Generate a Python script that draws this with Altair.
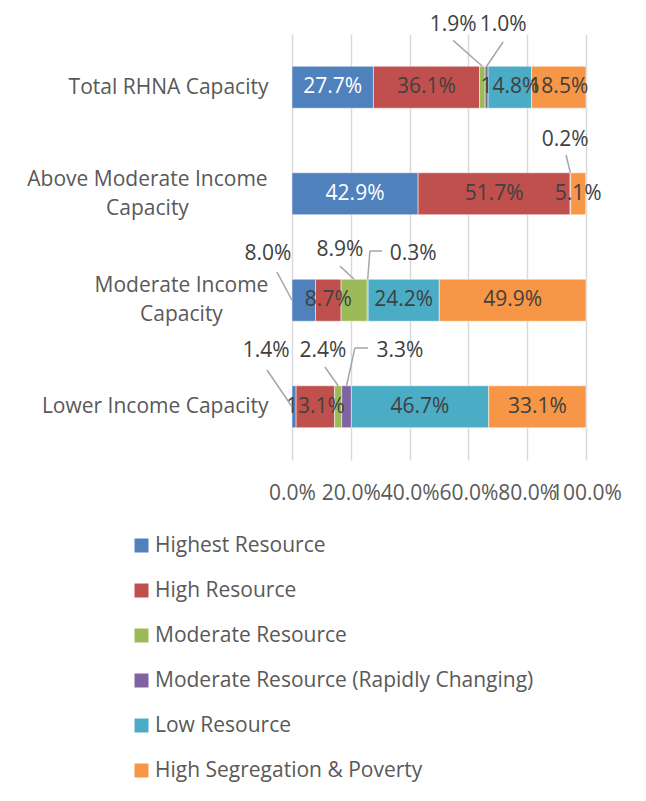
import altair as alt
import pandas as pd

# ---------------- data ----------------
categories = ["Total RHNA Capacity", "Above Moderate Income Capacity",
              "Moderate Income Capacity", "Lower Income Capacity"]
category_lines = [["Total RHNA Capacity"], ["Above Moderate Income", "Capacity"],
                  ["Moderate Income", "Capacity"], ["Lower Income Capacity"]]
series = ["Highest Resource", "High Resource", "Moderate Resource",
          "Moderate Resource (Rapidly Changing)", "Low Resource",
          "High Segregation & Poverty"]
colors = ["#4F81BD", "#C0504D", "#9BBB59", "#8064A2", "#4BACC6", "#F79646"]

highest = [27.7, 42.9, 8.0, 1.4]
high = [36.1, 51.7, 8.7, 13.1]
moderate = [1.9, 0.0, 8.9, 2.4]
rapid = [1.0, 0.2, 0.3, 3.3]
low = [14.8, 0.0, 24.2, 46.7]
segregation = [18.5, 5.1, 49.9, 33.1]
x_ticks = [0, 20, 40, 60, 80, 100]

values = [highest, high, moderate, rapid, low, segregation]

# ---------------- layout helpers (label callouts, in data units) ----------------
HALF = 0.197  # half bar thickness in row units
# (category index, series index): (label x, label dy, leader start x, leader start dy, elbow x or None, anchor)
callouts = {
    (0, 2): (54.8, -0.58, 54.8, -0.44, None, "top"),
    (0, 3): (71.8, -0.58, 71.8, -0.425, None, "top"),
    (1, 3): (92.9, -0.505, 93.2, -0.364, None, "top"),
    (2, 0): (-8.2, -0.434, -5.1, -0.265, None, "left"),
    (2, 2): (16.3, -0.472, 16.3, -0.32, None, "top"),
    (2, 3): (41.2, -0.434, 30.6, -0.462, 26.5, "top"),
    (3, 0): (-8.8, -0.523, -8.5, -0.345, None, "left"),
    (3, 2): (10.5, -0.523, 11.2, -0.373, None, "top"),
    (3, 3): (36.7, -0.523, 25.9, -0.552, 21.4, "top"),
}

seg_rows, lab_rows, call_rows, lead_rows = [], [], [], []
for ci, cat in enumerate(categories):
    row = ci + 0.5
    cum = 0.0
    for si, s in enumerate(series):
        v = values[si][ci]
        start, end = cum, cum + v
        cum = end
        if v <= 0:
            continue
        seg_rows.append({"category": cat, "series": s, "start": start, "end": end,
                         "y0": row - HALF, "y1": row + HALF, "order": si})
        label = f"{v:.1f}%"
        mid = (start + end) / 2
        if (ci, si) in callouts:
            lx, ldy, sx, sdy, ex, anchor = callouts[(ci, si)]
            call_rows.append({"x": lx, "y": row + ldy, "label": label})
            if anchor == "top":
                tx, ty = mid, row - HALF
            else:
                tx, ty = start, row
            if ex is None:
                lead_rows.append({"x": sx, "x2": tx, "y": row + sdy, "y2": ty})
            else:
                lead_rows.append({"x": sx, "x2": ex, "y": row + sdy, "y2": row + sdy})
                lead_rows.append({"x": ex, "x2": tx, "y": row + sdy, "y2": ty})
        else:
            lab_rows.append({"x": mid, "y": row, "label": label,
                             "color": "#FFFFFF" if si == 0 else "#404040"})

seg_df = pd.DataFrame(seg_rows)
lab_df = pd.DataFrame(lab_rows)
call_df = pd.DataFrame(call_rows)
lead_df = pd.DataFrame(lead_rows)

FONT = "Open Sans"
xscale = alt.Scale(domain=[0, 100], nice=False, zero=False)
yscale = alt.Scale(domain=[0, 4], reverse=True, nice=False, zero=False)

# y-axis label expression
expr_parts = []
for ci, lines in enumerate(category_lines):
    arr = "[" + ",".join("'" + l + "'" for l in lines) + "]"
    expr_parts.append((ci + 1, arr))
label_expr = ""
for lim, arr in expr_parts[:-1]:
    label_expr += f"datum.value < {lim} ? {arr} : "
label_expr += expr_parts[-1][1]

MULTI = "datum.value > 1 && datum.value < 3"

x_axis = alt.Axis(values=x_ticks, labelExpr="format(datum.value, '.1f') + '%'",
                  title=None, ticks=False, tickSize=0, domain=False, grid=True,
                  gridColor="#D9D9D9", gridWidth=1.5, labelFont=FONT, labelFontSize=21,
                  labelColor="#595959", labelPadding=22, labelOverlap=False,
                  labelFlush=False, labelBound=False)
y_axis = alt.Axis(values=[0.5, 1.5, 2.5, 3.5], labelExpr=label_expr, title=None,
                  ticks=False, tickSize=0, domain=False, grid=False, labelFont=FONT,
                  labelFontSize=21, labelColor="#595959", labelLineHeight=29,
                  labelLimit=400,
                  labelAlign={"condition": {"test": MULTI, "value": "center"},
                              "value": "right"},
                  labelOffset={"condition": {"test": MULTI, "value": -14.5},
                               "value": 0},
                  labelPadding={"condition": [
                      {"test": "datum.value > 1 && datum.value < 2", "value": 145},
                      {"test": "datum.value > 2 && datum.value < 3", "value": 111}],
                      "value": 24},
                  labelBaseline="middle")

bars = alt.Chart(seg_df).mark_bar(stroke="white", strokeWidth=0.5).encode(
    x=alt.X("start:Q", scale=xscale, axis=x_axis),
    x2="end:Q",
    y=alt.Y("y0:Q", scale=yscale, axis=y_axis),
    y2="y1:Q",
    color=alt.Color("series:N", scale=alt.Scale(domain=series, range=colors),
                    legend=alt.Legend(title=None, orient="none", legendX=-161, legendY=501,
                                      direction="vertical", symbolType="square",
                                      symbolSize=196, symbolStrokeWidth=0,
                                      labelFont=FONT, labelFontSize=21,
                                      labelColor="#595959", rowPadding=23,
                                      labelOffset=3, labelLimit=500)),
    order="order:Q",
)

labels = alt.Chart(lab_df).mark_text(font=FONT, fontSize=21, baseline="middle",
                                     align="center").encode(
    x=alt.X("x:Q", scale=xscale), y=alt.Y("y:Q", scale=yscale),
    text="label:N", color=alt.Color("color:N", scale=None))

leaders = alt.Chart(lead_df).mark_rule(color="#A6A6A6", strokeWidth=1.5).encode(
    x=alt.X("x:Q", scale=xscale), x2="x2:Q",
    y=alt.Y("y:Q", scale=yscale), y2="y2:Q")

callout_text = alt.Chart(call_df).mark_text(font=FONT, fontSize=21, baseline="middle",
                                            align="center", color="#404040").encode(
    x=alt.X("x:Q", scale=xscale), y=alt.Y("y:Q", scale=yscale), text="label:N")

chart = alt.layer(bars, labels, leaders, callout_text).properties(
    width=294, height=426,
    autosize=alt.AutoSizeParams(type="none"),
    padding={"left": 284, "top": 26, "right": 40, "bottom": 330},
).configure_view(stroke=None)

chart.save("out.html", embed_options={"renderer": "svg", "actions": False})
